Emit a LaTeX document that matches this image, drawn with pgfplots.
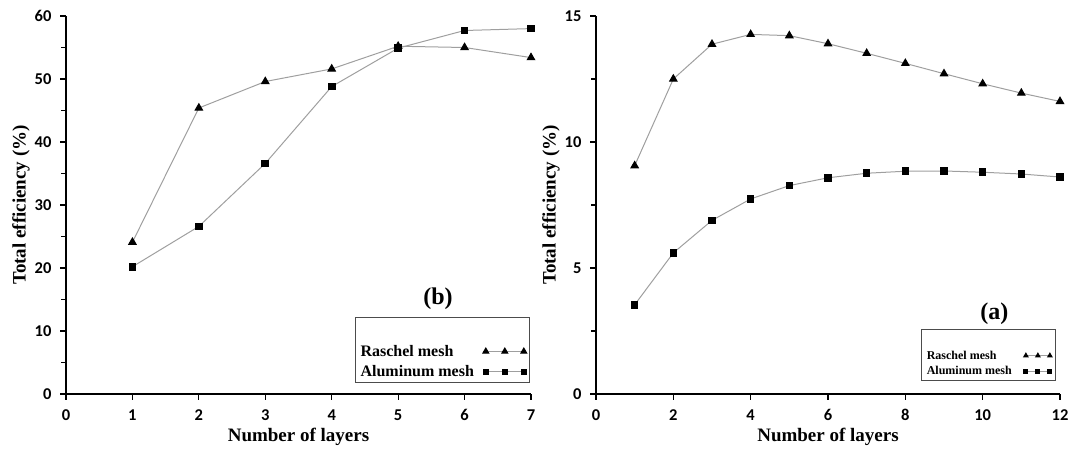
\documentclass[border=0pt]{standalone}
\usepackage{fontspec}
\setmainfont{Liberation Serif}
\newfontfamily\tickfont{Carlito}
\usepackage{pgfplots}
\pgfplotsset{compat=1.18}

\pgfplotsset{
  meshpanel/.style={
    scale only axis, height=378pt,
    xmin=0, ymin=0,
    axis x line*=bottom, axis y line*=left,
    axis line style={-, line width=1.8pt},
    tick align=outside, major tick length=6pt, minor tick length=5pt,
    tick style={black, line width=1.2pt},
    minor y tick num=1,
    /pgf/number format/assume math mode=true,
    tick label style={font=\tickfont\bfseries\fontsize{16.5}{16.5}\selectfont},
    xticklabel style={yshift=-6pt},
    yticklabel style={xshift=-5pt},
    xlabel={Number of layers}, ylabel={Total efficiency (\%)},
    every axis x label/.style={at={(axis description cs:0.5,0)}, anchor=north, yshift=-31pt,
      font=\bfseries\fontsize{19}{19}\selectfont},
    every axis y label/.style={at={(axis description cs:-0.097,0.5)}, rotate=90, anchor=center,
      font=\bfseries\fontsize{19}{19}\selectfont},
    legend cell align=left, legend plot pos=right,
    legend style={draw=black!70, line width=0.8pt, fill=none,
      inner xsep=3pt, inner ysep=2pt},
  },
  ser/.style={gray!75, line width=1pt, mark options={black, fill=black, solid}},
}

\begin{document}
\begin{tikzpicture}
\path[use as bounding box] (0,0) rectangle (1069pt,452pt);

% left panel (b)
\begin{axis}[meshpanel, at={(66pt,58pt)}, anchor=south west, width=465pt,
  xmax=7, ymax=60, xtick={0,...,7}, ytick={0,10,...,60},
  legend style={at={(rel axis cs:0.998,0.03)}, anchor=south east,
    font=\bfseries\fontsize{16}{22}\selectfont, column sep=7pt, row sep=4pt,
    legend image code/.code={\draw[#1, mark repeat=1] plot coordinates {(0pt,0pt) (19pt,0pt) (38pt,0pt)};}},
]
\addlegendimage{empty legend}\addlegendentry{\rule{0pt}{14pt}}
\addplot[ser, mark=triangle*, mark size=4.2pt, legend image post style={mark size=3.3pt}] coordinates {
  (1,24.1) (2,45.4) (3,49.6) (4,51.6) (5,55.2) (6,55.0) (7,53.4)};
\addlegendentry{Raschel mesh}
\addplot[ser, mark=square*, mark size=3.3pt, legend image post style={mark size=2.6pt}] coordinates {
  (1,20.2) (2,26.6) (3,36.6) (4,48.8) (5,54.9) (6,57.7) (7,58.0)};
\addlegendentry{Aluminum mesh}
\node[font=\bfseries\fontsize{24}{24}\selectfont] at (axis cs:5.6,15.2) {(b)};
\end{axis}

% right panel (a)
\begin{axis}[meshpanel, at={(596pt,58pt)}, anchor=south west, width=464pt,
  xmax=12, ymax=15, xtick={0,2,...,12}, ytick={0,5,10,15},
  legend style={at={(rel axis cs:0.99,0.035)}, anchor=south east,
    font=\bfseries\fontsize{12}{18}\selectfont, column sep=10pt, row sep=2pt,
    legend image code/.code={\draw[#1, mark repeat=1] plot coordinates {(0pt,0pt) (12pt,0pt) (24pt,0pt)};}},
]
\addlegendimage{empty legend}\addlegendentry{\rule{0pt}{10pt}}
\addplot[ser, mark=triangle*, mark size=4.2pt, legend image post style={mark size=2.4pt}] coordinates {
  (1,9.06) (2,12.50) (3,13.88) (4,14.27) (5,14.22) (6,13.90)
  (7,13.52) (8,13.12) (9,12.71) (10,12.31) (11,11.94) (12,11.61)};
\addlegendentry{Raschel mesh}
\addplot[ser, mark=square*, mark size=3.3pt, legend image post style={mark size=2pt}] coordinates {
  (1,3.54) (2,5.60) (3,6.89) (4,7.74) (5,8.27) (6,8.58)
  (7,8.76) (8,8.84) (9,8.85) (10,8.80) (11,8.73) (12,8.61)};
\addlegendentry{Aluminum mesh}
\node[font=\bfseries\fontsize{24}{24}\selectfont] at (axis cs:10.3,3.2) {(a)};
\end{axis}
\end{tikzpicture}
\end{document}
